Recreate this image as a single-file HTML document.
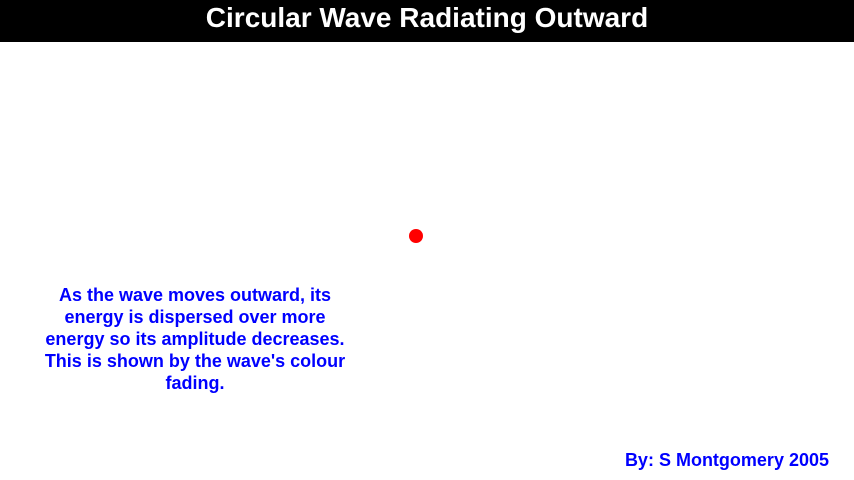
<!DOCTYPE html>
<html><head><meta charset="utf-8"><style>
body{margin:0;width:854px;height:480px;background:#fff;position:relative;overflow:hidden;font-family:"Liberation Sans",Arial,sans-serif;font-weight:bold}
#bar{position:absolute;left:0;top:0;width:854px;height:42px;background:#000;color:#fff;font-size:28px;text-align:center;line-height:36px}
#dot{position:absolute;left:409px;top:229px;width:14px;height:14px;border-radius:50%;background:#f00}
#desc{position:absolute;left:15px;top:284px;width:360px;text-align:center;color:#00f;font-size:18px;line-height:22px}
#by{position:absolute;right:25px;top:450px;color:#00f;font-size:18px}
</style></head><body>
<div id="bar">Circular Wave Radiating Outward</div>
<div id="dot"></div>
<div id="desc">As the wave moves outward, its<br>energy is dispersed over more<br>energy so its amplitude decreases.<br>This is shown by the wave's colour<br>fading.</div>
<div id="by">By: S Montgomery 2005</div>
</body></html>
